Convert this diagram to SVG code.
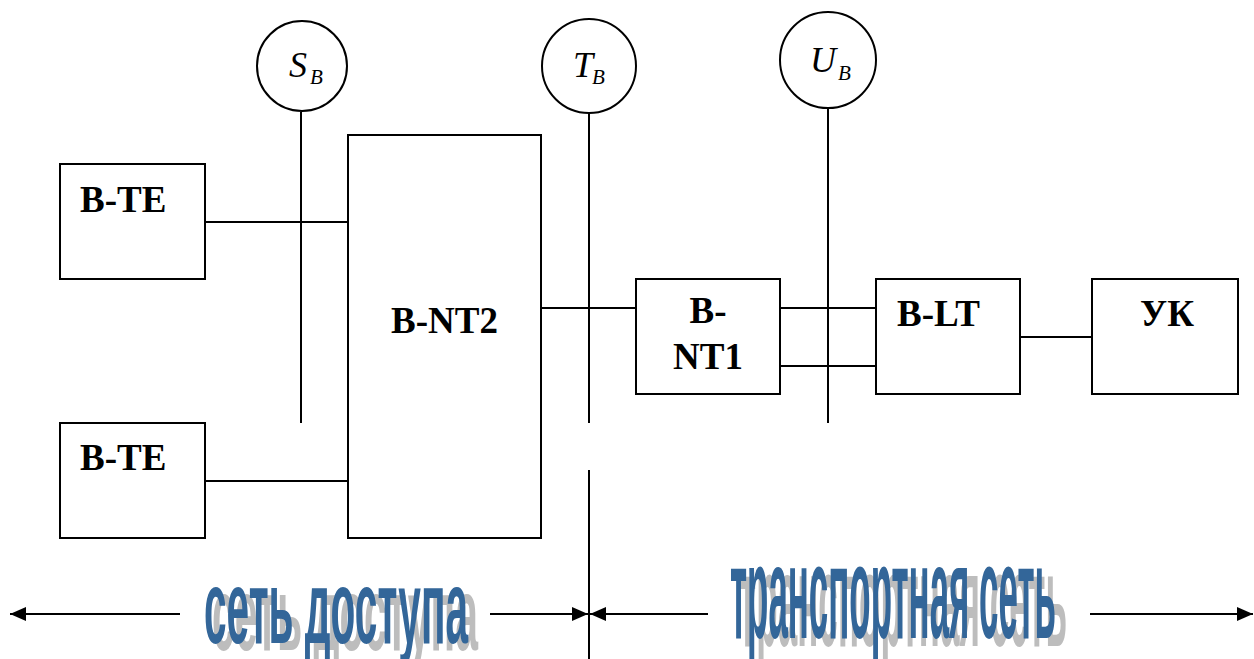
<svg xmlns="http://www.w3.org/2000/svg" width="1254" height="659" viewBox="0 0 1254 659">
<style>
.box{fill:#fff;stroke:#000;stroke-width:2}
.ln{stroke:#000;stroke-width:2;fill:none}
.lbl{font-family:"Liberation Serif",serif;font-weight:bold;font-size:37px;fill:#000}
.ref{fill:#fff;stroke:#000;stroke-width:2}
.it{font-family:"Liberation Serif",serif;font-style:italic;fill:#000}
.wa{font-family:"Liberation Sans",Arial,sans-serif;font-weight:bold;fill:#336699}
.sh{font-family:"Liberation Sans",Arial,sans-serif;font-weight:bold;fill:#bdbdbd}
</style>
<defs>
<marker id="ah" viewBox="0 0 16 14" refX="16" refY="7" markerWidth="16" markerHeight="14" markerUnits="userSpaceOnUse" orient="auto">
<path d="M0,0 L16,7 L0,14 z" fill="#000"/>
</marker>
</defs>
<rect width="1254" height="659" fill="#fff"/>
<g id="connectors">
<line class="ln" x1="301" y1="112" x2="301" y2="423"/>
<line class="ln" x1="589" y1="114" x2="589" y2="423"/>
<line class="ln" x1="589" y1="470" x2="589" y2="659"/>
<line class="ln" x1="828" y1="108" x2="828" y2="423"/>
<line class="ln" x1="205" y1="222" x2="348" y2="222"/>
<line class="ln" x1="205" y1="481" x2="348" y2="481"/>
<line class="ln" x1="541" y1="308" x2="636" y2="308"/>
<line class="ln" x1="780" y1="308" x2="876" y2="308"/>
<line class="ln" x1="780" y1="366" x2="876" y2="366"/>
<line class="ln" x1="1020" y1="337" x2="1092" y2="337"/>
<line class="ln" x1="180" y1="614" x2="10" y2="614" marker-end="url(#ah)"/>
<line class="ln" x1="490" y1="614" x2="588" y2="614" marker-end="url(#ah)"/>
<line class="ln" x1="708" y1="614" x2="590" y2="614" marker-end="url(#ah)"/>
<line class="ln" x1="1090" y1="614" x2="1253" y2="614" marker-end="url(#ah)"/>
</g>
<g id="ref-S">
<circle class="ref" cx="302" cy="66" r="45"/>
<text class="it" x="289" y="77" font-size="36">S</text><text class="it" x="310" y="84" font-size="21">B</text>
</g>
<g id="ref-T">
<circle class="ref" cx="589" cy="66" r="47"/>
<text class="it" x="573" y="77" font-size="36">T</text><text class="it" x="592" y="84" font-size="21">B</text>
</g>
<g id="ref-U">
<circle class="ref" cx="828" cy="60" r="48"/>
<text class="it" x="810" y="72" font-size="36">U</text><text class="it" x="838" y="80" font-size="21">B</text>
</g>
<g id="bte1"><rect class="box" x="60" y="164" width="145" height="115"/><text class="lbl" x="80" y="212">B-TE</text></g>
<g id="bte2"><rect class="box" x="60" y="423" width="145" height="115"/><text class="lbl" x="80" y="470">B-TE</text></g>
<g id="bnt2"><rect class="box" x="348" y="135" width="193" height="403"/><text class="lbl" x="391" y="333">B-NT2</text></g>
<g id="bnt1"><rect class="box" x="636" y="279" width="144" height="115"/><text class="lbl" x="708" y="323" text-anchor="middle">B-</text><text class="lbl" x="708" y="369" text-anchor="middle">NT1</text></g>
<g id="blt"><rect class="box" x="876" y="279" width="144" height="115"/><text class="lbl" x="897" y="326">B-LT</text></g>
<g id="uk"><rect class="box" x="1092" y="279" width="146" height="115"/><text class="lbl" x="1140" y="326">УК</text></g>
<g id="labels">
<text class="sh" x="212" y="650" font-size="104" textLength="266" lengthAdjust="spacingAndGlyphs">сеть доступа</text>
<text class="wa" x="204" y="643" font-size="104" textLength="264" lengthAdjust="spacingAndGlyphs">сеть доступа</text>
<text class="sh" x="739" y="646" font-size="132" textLength="328" lengthAdjust="spacingAndGlyphs">транспортная сеть</text>
<text class="wa" x="730" y="638" font-size="132" textLength="326" lengthAdjust="spacingAndGlyphs">транспортная сеть</text>
</g>
</svg>
